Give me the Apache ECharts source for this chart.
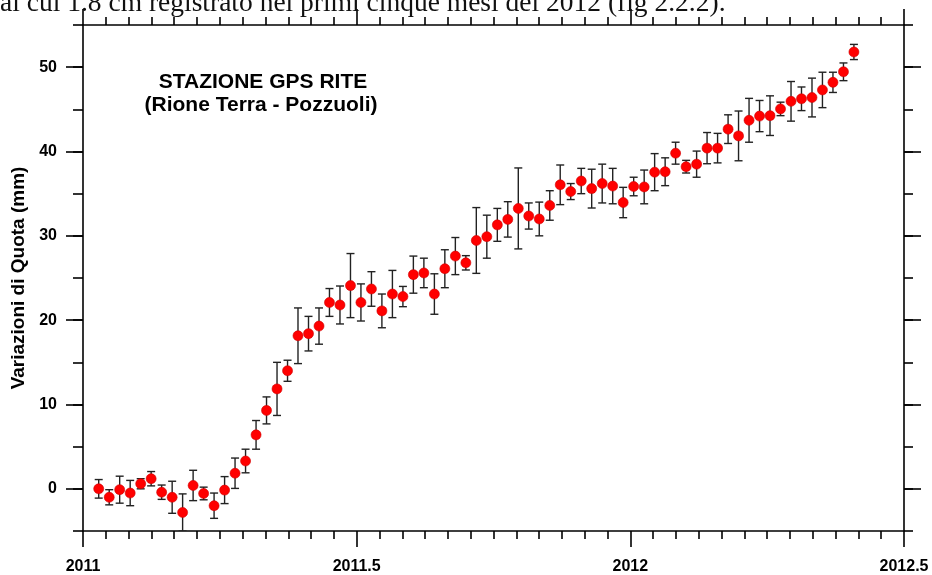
<!DOCTYPE html>
<html><head><meta charset="utf-8">
<script src="https://cdn.jsdelivr.net/npm/echarts@6.0.0/dist/echarts.min.js"></script>
<style>html,body{margin:0;padding:0;background:#fff}#c{width:932px;height:575px}</style>
</head><body><div id="c"></div>
<script>
// decimal-year epoch of each weekly solution
const years = [
  2011.0287, 2011.0479, 2011.0670, 2011.0862, 2011.1054, 2011.1245, 2011.1437, 2011.1629,
  2011.1820, 2011.2012, 2011.2204, 2011.2395, 2011.2587, 2011.2778, 2011.2970, 2011.3162,
  2011.3353, 2011.3545, 2011.3737, 2011.3928, 2011.4120, 2011.4312, 2011.4503, 2011.4695,
  2011.4887, 2011.5078, 2011.5270, 2011.5461, 2011.5653, 2011.5845, 2011.6036, 2011.6228,
  2011.6420, 2011.6611, 2011.6803, 2011.6995, 2011.7186, 2011.7378, 2011.7570, 2011.7761,
  2011.7953, 2011.8144, 2011.8336, 2011.8528, 2011.8719, 2011.8911, 2011.9103, 2011.9294,
  2011.9486, 2011.9678, 2011.9869, 2012.0061, 2012.0253, 2012.0444, 2012.0636, 2012.0827,
  2012.1019, 2012.1211, 2012.1402, 2012.1594, 2012.1786, 2012.1977, 2012.2169, 2012.2361,
  2012.2552, 2012.2744, 2012.2936, 2012.3127, 2012.3319, 2012.3510, 2012.3702, 2012.3894,
  2012.4085
];
// vertical displacement (mm)
const quota = [
  0.0, -1.0, -0.1, -0.5, 0.6, 1.2, -0.4, -1.0,
  -2.8, 0.4, -0.55, -2.0, -0.15, 1.85, 3.3, 6.4,
  9.3, 11.85, 14.0, 18.15, 18.4, 19.3, 22.1, 21.8,
  24.1, 22.1, 23.7, 21.1, 23.1, 22.8, 25.4, 25.6,
  23.1, 26.1, 27.6, 26.8, 29.45, 29.9, 31.3, 31.95,
  33.25, 32.35, 32.0, 33.6, 36.05, 35.25, 36.5, 35.6,
  36.2, 35.9, 33.95, 35.85, 35.8, 37.55, 37.6, 39.8,
  38.2, 38.5, 40.4, 40.4, 42.65, 41.85, 43.7, 44.2,
  44.25, 45.05, 45.95, 46.25, 46.4, 47.3, 48.2, 49.45,
  51.8
];
// error (mm, +/-)
const errs = [
  1.1, 0.9, 1.6, 1.5, 0.6, 0.85, 0.85, 1.9,
  2.2, 1.8, 0.75, 1.5, 1.6, 1.8, 1.4, 1.7,
  1.6, 3.15, 1.25, 3.3, 2.05, 2.15, 1.65, 2.25,
  3.8, 2.2, 2.05, 2.0, 2.8, 1.2, 2.2, 1.75,
  2.4, 2.25, 2.2, 0.85, 3.9, 2.55, 1.95, 2.1,
  4.8, 1.55, 2.0, 1.75, 2.35, 0.95, 1.5, 2.3,
  2.3, 2.1, 1.8, 1.1, 2.0, 2.2, 1.65, 1.3,
  0.75, 1.55, 1.85, 1.75, 1.7, 2.95, 2.6, 1.85,
  2.35, 0.8, 2.35, 1.4, 2.3, 2.1, 1.2, 1.05,
  0.9
];
const xTickValues = [2011, 2011.5, 2012, 2012.5];
const xTickLabels = ['2011', '2011.5', '2012', '2012.5'];
const yTickValues = [0, 10, 20, 30, 40, 50];
const yTickLabels = ['0', '10', '20', '30', '40', '50'];
const yAxisTitle = 'Variazioni di Quota (mm)';
const titleLines = ['STAZIONE GPS RITE', '(Rione Terra - Pozzuoli)'];
const pageText = 'al cui 1.8 cm registrato nei primi cinque mesi del 2012 (fig 2.2.2).';

const chart = echarts.init(document.getElementById('c'), null, {renderer: 'canvas'});
const LS = {color: '#000', width: 1.6};
const font = 'Liberation Sans, Arial, Helvetica, sans-serif';

function xAxisCfg(pos, labels) {
  return {
    type: 'value', position: pos, min: 2011, max: 2012.5, interval: 0.5,
    axisLine: {show: true, onZero: false, lineStyle: LS},
    axisTick: {show: true, length: 16, lineStyle: LS},
    minorTick: {show: true, splitNumber: 12, length: 8, lineStyle: LS},
    splitLine: {show: false}, minorSplitLine: {show: false},
    axisLabel: labels ? {
      show: true, margin: 28, color: '#000', fontFamily: font, fontWeight: 'bold', fontSize: 16,
      formatter: v => { const k = xTickValues.findIndex(t => Math.abs(t - v) < 1e-6); return k >= 0 ? xTickLabels[k] : ''; }
    } : {show: false}
  };
}
function yMinorCfg(pos, len) {
  return {
    type: 'value', position: pos, min: -5, max: 55, interval: 5,
    axisLine: {show: true, onZero: false, lineStyle: LS},
    axisTick: {show: true, length: len, lineStyle: LS},
    axisLabel: {show: false}, splitLine: {show: false}
  };
}
function yMajorCfg(pos, len, labels) {
  const c = {
    type: 'value', position: pos, min: -5, max: 55,
    axisLine: {show: false, onZero: false},
    axisTick: {show: true, length: len, lineStyle: LS, customValues: yTickValues},
    axisLabel: labels ? {
      show: true, customValues: yTickValues, margin: 26, color: '#000', fontFamily: font, fontWeight: 'bold', fontSize: 16,
      formatter: v => { const k = yTickValues.findIndex(t => Math.abs(t - v) < 1e-6); return k >= 0 ? yTickLabels[k] : ''; }
    } : {show: false},
    splitLine: {show: false}
  };
  if (labels) {
    c.name = yAxisTitle; c.nameLocation = 'middle'; c.nameGap = 54;
    c.nameTextStyle = {color: '#000', fontFamily: font, fontWeight: 'bold', fontSize: 19};
  }
  return c;
}

const option = {
  backgroundColor: '#fff',
  animation: false,
  grid: {left: 83, right: 28, top: 25, bottom: 42, containLabel: false},
  xAxis: [xAxisCfg('bottom', true), xAxisCfg('top', false)],
  yAxis: [yMinorCfg('left', 10), yMajorCfg('left', 17, true), yMinorCfg('right', 9), yMajorCfg('right', 17, false)],
  graphic: [
    {type: 'text', left: 0, top: -10, z: 10,
     style: {text: pageText, font: '27.5px "Liberation Serif", "Times New Roman", serif', fill: '#111'}},
    {type: 'text', x: 263, y: 82, z: 10,
     style: {text: titleLines[0], font: 'bold 21px ' + font, fill: '#000', textAlign: 'center', textVerticalAlign: 'middle'}},
    {type: 'text', x: 261, y: 105, z: 10,
     style: {text: titleLines[1], font: 'bold 21px ' + font, fill: '#000', textAlign: 'center', textVerticalAlign: 'middle'}}
  ],
  series: [
    {
      type: 'custom', xAxisIndex: 0, yAxisIndex: 0, z: 2, clip: true,
      data: years.map((x, i) => [x, quota[i] - errs[i], quota[i] + errs[i]]),
      encode: {x: 0, y: [1, 2]},
      renderItem: (params, api) => {
        const x = api.value(0), lo = api.value(1), hi = api.value(2);
        const a = api.coord([x, hi]), b = api.coord([x, lo]);
        const w = 4;
        const st = {stroke: '#222', lineWidth: 1.4};
        return {type: 'group', children: [
          {type: 'line', shape: {x1: a[0], y1: a[1], x2: b[0], y2: b[1]}, style: st},
          {type: 'line', shape: {x1: a[0] - w, y1: a[1], x2: a[0] + w, y2: a[1]}, style: st},
          {type: 'line', shape: {x1: b[0] - w, y1: b[1], x2: b[0] + w, y2: b[1]}, style: st}
        ]};
      }
    },
    {
      type: 'scatter', xAxisIndex: 0, yAxisIndex: 0, z: 3,
      symbol: 'circle', symbolSize: 10,
      itemStyle: {color: '#ff0000', borderColor: '#d00000', borderWidth: 0.6, opacity: 1},
      data: years.map((x, i) => [x, quota[i]])
    }
  ]
};
chart.setOption(option);
</script>
</body></html>
